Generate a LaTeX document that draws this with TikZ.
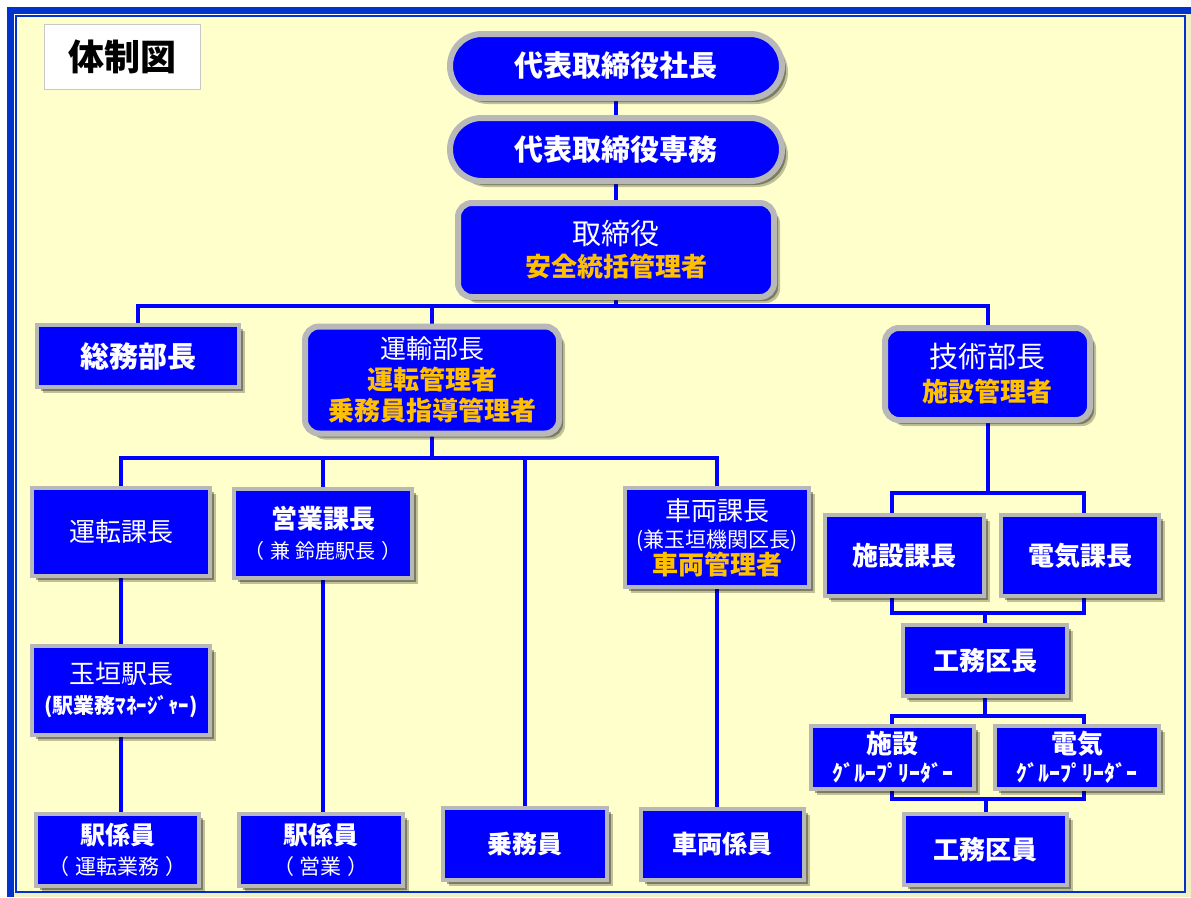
\documentclass[tikz,border=0pt]{standalone}
\usepackage{fontspec}
\setmainfont{Noto Sans CJK JP}
\usetikzlibrary{shapes.misc,shadows}
\definecolor{boxblue}{RGB}{0,0,255}
\definecolor{boxgray}{RGB}{184,184,184}
\definecolor{lineblue}{RGB}{0,0,255}
\definecolor{gold}{RGB}{255,192,0}
\definecolor{bgyellow}{RGB}{255,255,204}
\definecolor{frameblue}{RGB}{0,51,204}
\newcommand\fs[2]{\fontsize{#1}{#2}\selectfont}
\newcommand\yl[1]{{\bfseries\color{gold}#1}}
\newcommand\wpar[1]{\kern-2pt（\kern6pt #1\kern6pt ）\kern-2pt}
\pgfdeclarelayer{back}
\pgfdeclarelayer{lines}
\pgfsetlayers{back,lines,main}
\tikzset{
  base/.style={fill=boxblue, text=white, inner sep=0pt, outer sep=0pt, align=center,
    drop shadow={shadow xshift=6pt, shadow yshift=-6pt, opacity=.25, fill=black},
    drop shadow={shadow xshift=4pt, shadow yshift=-4pt, opacity=.35, fill=black}},
  sq/.style={base, rectangle, draw=boxgray, line width=4pt},
  rr/.style={base, rectangle, rounded corners=14pt, draw=boxgray, line width=6pt},
  pill/.style={base, rounded rectangle, draw=boxgray, line width=6pt},
  conn/.style={draw=lineblue, line width=4pt},
}
\begin{document}
\begin{tikzpicture}[x=1pt,y=-1pt]
\useasboundingbox (0,0) rectangle (1191,897);
\begin{pgfonlayer}{back}
  \fill[white] (0,0) rectangle (1191,897);
  \fill[frameblue] (7,7) rectangle (1191,14);
  \fill[frameblue] (7,7) rectangle (14,897);
  \fill[black!6!bgyellow] (14,14) rectangle (1191,897);
  \fill[white] (14,14) rectangle (16,892);
  \fill[white] (14,14) rectangle (1185,16);
  \draw[frameblue, line width=2pt, fill=bgyellow] (16,16) rectangle (1185,892);
\end{pgfonlayer}

% title
\node[draw={rgb,255:red,200;green,200;blue,200}, line width=1pt, fill=white, text=black,
  minimum width=156pt, minimum height=65pt, inner sep=0pt, font=\fs{36}{40}\bfseries]
  (title) at (122.5,57) {体制図};

% top
\node[pill, minimum width=332pt, minimum height=64pt, font=\fs{29}{34}\bfseries] (pres) at (616,66) {代表取締役社長};
\node[pill, minimum width=332pt, minimum height=63pt, font=\fs{29}{34}\bfseries] (senmu) at (616,149.5) {代表取締役専務};
\node[rr, minimum width=316pt, minimum height=94pt, font=\fs{26}{32}] (tori) at (616,250)
  {{\fs{29}{34}取締役}\\\yl{安全統括管理者}};

% level 2
\node[sq, minimum width=202pt, minimum height=62pt, font=\fs{29}{34}\bfseries] (soumu) at (138,356) {総務部長};
\node[rr, minimum width=254pt, minimum height=107pt, font=\fs{26}{31}] (unyu) at (432,380)
  {運輸部長\\\yl{運転管理者}\\\yl{乗務員指導管理者}};
\node[rr, minimum width=205pt, minimum height=92pt, font=\fs{26}{34}] (gijutsu) at (987.5,374)
  {{\fs{29}{34}技術部長}\\\yl{施設管理者}};

% level 3
\node[sq, minimum width=178pt, minimum height=88pt, font=\fs{26}{31}] (untenK) at (121,532) {運転課長};
\node[sq, minimum width=178pt, minimum height=89pt, font=\fs{26}{30}] (eigyoK) at (323,533)
  {{\bfseries 営業課長}\\{\fs{20}{24}\wpar{兼 鈴鹿駅長}}};
\node[sq, minimum width=184pt, minimum height=99pt, font=\fs{26}{27}] (sharyoK) at (717,537.5)
  {車両課長\\{\fs{21}{24}(兼玉垣機関区長)}\\\yl{車両管理者}};
\node[sq, minimum width=159pt, minimum height=81pt, font=\fs{26}{31}\bfseries] (sisetsuK) at (904.5,555.5) {施設課長};
\node[sq, minimum width=158pt, minimum height=81pt, font=\fs{26}{31}\bfseries] (denkiK) at (1080,555.5) {電気課長};
\node[sq, minimum width=164pt, minimum height=71pt, font=\fs{26}{31}\bfseries] (koumuK) at (985,660.5) {工務区長};
\node[sq, minimum width=163pt, minimum height=63pt, font=\fs{26}{28}\bfseries] (sisetsuGL) at (892.5,757)
  {施設\\{\fs{22}{24}ｸﾞﾙｰﾌﾟﾘｰﾀﾞｰ}};
\node[sq, minimum width=164pt, minimum height=63pt, font=\fs{26}{28}\bfseries] (denkiGL) at (1077,757)
  {電気\\{\fs{22}{24}ｸﾞﾙｰﾌﾟﾘｰﾀﾞｰ}};
\node[sq, minimum width=163pt, minimum height=71pt, font=\fs{26}{31}\bfseries] (koumuIn) at (985.5,849.5) {工務区員};

% left chains
\node[sq, minimum width=178pt, minimum height=89pt, font=\fs{26}{30}] (tamagaki) at (121,690)
  {玉垣駅長\\{\fs{21}{24}\bfseries (駅業務ﾏﾈｰｼﾞｬｰ)}};
\node[sq, minimum width=163pt, minimum height=72pt, font=\fs{25}{30}] (ekiUnten) at (117.5,850)
  {{\bfseries 駅係員}\\{\fs{21}{24}\wpar{運転業務}}};
\node[sq, minimum width=164pt, minimum height=72pt, font=\fs{25}{30}] (ekiEigyo) at (321,850)
  {{\bfseries 駅係員}\\{\fs{21}{24}\wpar{営業}}};
\node[sq, minimum width=164pt, minimum height=72pt, font=\fs{25}{30}\bfseries] (jomuin) at (525,844) {乗務員};
\node[sq, minimum width=163pt, minimum height=71pt, font=\fs{25}{30}\bfseries] (sharyoKakari) at (722.5,844.5) {車両係員};

% connectors
\coordinate (bus1) at (616,306);
\coordinate (bus2) at (432,458);
\coordinate (b1a) at (892,493);
\coordinate (b1b) at (1084,613);
\coordinate (b2a) at (892,716);
\coordinate (b2b) at (1084,799);
\begin{pgfonlayer}{lines}
  \draw[conn] (pres.south) -- (senmu.north);
  \draw[conn] (senmu.south) -- (tori.north);
  \draw[conn] (tori.south) -- (bus1);
  \draw[conn] (soumu.north) |- (bus1) -| (gijutsu.north);
  \draw[conn] (unyu.north) -- (unyu.north |- bus1);
  \draw[conn] (unyu.south) -- (bus2);
  \draw[conn] (untenK.north) |- (bus2) -| (sharyoK.north);
  \draw[conn] (eigyoK.north) -- (eigyoK.north |- bus2);
  \draw[conn] (jomuin.north) -- (jomuin.north |- bus2);
  \draw[conn] (untenK.south) -- (tamagaki.north);
  \draw[conn] (tamagaki.south) -- (tamagaki.south |- ekiUnten.north);
  \draw[conn] (eigyoK.south) -- (eigyoK.south |- ekiEigyo.north);
  \draw[conn] (sharyoK.south) -- (sharyoK.south |- sharyoKakari.north);
  \draw[conn] (gijutsu.south) -- (gijutsu.south |- b1a);
  \draw[conn] (b1a) rectangle (b1b);
  \draw[conn] (koumuK.north) -- (koumuK.north |- b1b);
  \draw[conn] (koumuK.south) -- (koumuK.south |- b2a);
  \draw[conn] (b2a) rectangle (b2b);
  \draw[conn] (koumuIn.north) -- (koumuIn.north |- b2b);
\end{pgfonlayer}
\end{tikzpicture}
\end{document}
